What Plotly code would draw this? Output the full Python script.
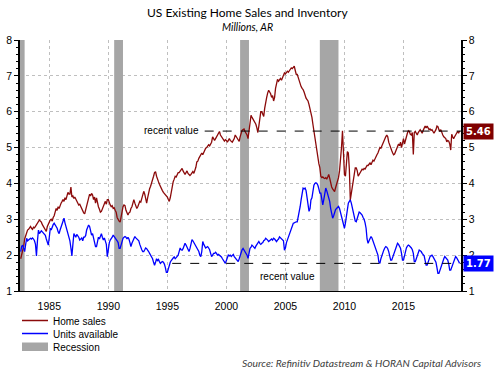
import plotly.graph_objects as go
import pandas as pd

# ---------------- data (monthly, millions, SAAR) ----------------
start_month = "1982-08-01"

home_sales = [
    1.90, 2.00, 2.10, 2.25, 2.45,
    2.55, 2.65, 2.70, 2.72, 2.78, 2.80, 2.75, 2.72, 2.78, 2.76, 2.80, 2.85,
    2.90, 2.97, 2.98, 2.95, 2.92, 2.85, 2.80, 2.75, 2.68, 2.66, 2.80, 2.88,
    2.95, 2.98, 3.00, 2.95, 3.05, 3.10, 3.20, 3.30, 3.25, 3.35, 3.30, 3.40,
    3.45, 3.50, 3.55, 3.50, 3.60, 3.55, 3.65, 3.75, 3.70, 3.70, 3.90, 3.62,
    3.65, 3.58, 3.62, 3.55, 3.50, 3.45, 3.40, 3.42, 3.35, 3.28, 3.22, 3.18,
    3.15, 3.25, 3.38, 3.50, 3.60, 3.70, 3.65, 3.72, 3.68, 3.55, 3.62, 3.45,
    3.60, 3.45, 3.35, 3.28, 3.20, 3.22, 3.30, 3.40, 3.45, 3.50, 3.42, 3.55,
    3.55, 3.45, 3.40, 3.35, 3.38, 3.30, 3.32, 3.25, 3.20, 3.05, 2.98, 2.95,
    2.92, 3.05, 3.25, 3.35, 3.40, 3.38, 3.25, 3.15, 3.12, 3.18, 3.20, 3.30,
    3.35, 3.45, 3.55, 3.45, 3.35, 3.30, 3.35, 3.42, 3.50, 3.48, 3.60, 3.72,
    3.78, 3.70, 3.55, 3.45, 3.60, 3.75, 3.85, 3.92, 4.00, 4.10, 4.20, 4.30,
    4.33, 4.20, 4.10, 4.05, 3.98, 3.90, 3.85, 3.80, 3.75, 3.72, 3.70, 3.68,
    3.62, 3.55, 3.50, 3.60, 3.75, 3.95, 4.05, 4.12, 4.20, 4.18, 4.25, 4.30,
    4.30, 4.35, 4.40, 4.42, 4.35, 4.28, 4.25, 4.30, 4.35, 4.28, 4.25, 4.22,
    4.25, 4.30, 4.33, 4.28, 4.35, 4.45, 4.60, 4.62, 4.70, 4.75, 4.78, 4.85,
    4.80, 4.88, 4.95, 4.98, 5.00, 5.05, 5.08, 5.05, 5.10, 5.15, 5.30, 5.25,
    5.20, 5.25, 5.30, 5.35, 5.40, 5.45, 5.35, 5.30, 5.25, 5.20, 5.18, 5.22,
    5.20, 5.15, 5.22, 5.25, 5.20, 5.18, 5.15, 5.20, 5.25, 5.35, 5.30, 5.25,
    5.20, 5.17, 5.30, 5.40, 5.48, 5.50, 5.52, 5.45, 5.40, 5.35, 5.25, 5.45,
    5.70, 5.90, 5.85, 5.80, 5.75, 5.70, 5.65, 5.55, 5.42, 5.60, 5.80, 6.00,
    6.00, 5.95, 5.87, 6.10, 6.30, 6.40, 6.52, 6.60, 6.55, 6.50, 6.40, 6.45,
    6.30, 6.40, 6.65, 6.75, 6.90, 6.85, 6.90, 6.93, 6.88, 6.95, 7.00, 7.08,
    7.05, 7.08, 7.13, 7.10, 7.15, 7.18, 7.22, 7.20, 7.25, 7.27, 7.15, 7.04,
    7.04, 6.95, 6.85, 6.75, 6.70, 6.65, 6.62, 6.55, 6.45, 6.38, 6.34, 6.30,
    6.20, 6.10, 5.95, 5.84, 5.65, 5.45, 5.28, 5.10, 4.90, 4.70, 4.55, 4.44,
    4.20, 4.16, 4.18, 4.15, 4.14, 4.16, 4.12, 4.18, 4.25, 4.15, 4.00, 3.90,
    3.85, 3.80, 3.77, 3.88, 3.97, 4.05, 4.16, 4.35, 4.63, 5.00, 5.47, 4.75,
    4.25, 4.20, 4.50, 4.89, 4.85, 4.40, 3.54, 3.70, 3.92, 4.00, 4.20, 4.43,
    4.43, 4.35, 4.20, 4.25, 4.30, 4.35, 4.40, 4.38, 4.42, 4.40, 4.45, 4.50,
    4.50, 4.55, 4.57, 4.52, 4.60, 4.65, 4.62, 4.70, 4.75, 4.80, 4.85, 4.95,
    5.00, 4.98, 5.05, 5.10, 5.20, 5.25, 5.30, 5.35, 5.30, 5.15, 5.05, 5.00,
    4.92, 4.85, 4.80, 4.82, 4.90, 4.95, 5.05, 5.10, 5.05, 5.15, 5.00, 5.10,
    5.25, 5.10, 5.20, 5.35, 5.40, 5.47, 5.45, 5.37, 5.35, 5.42, 4.81, 5.42,
    5.45, 5.40, 5.35, 5.42, 5.48, 5.50, 5.45, 5.40, 5.48, 5.55, 5.60, 5.55,
    5.60, 5.55, 5.50, 5.52, 5.48, 5.50, 5.45, 5.40, 5.45, 5.50, 5.60, 5.58,
    5.50, 5.45, 5.50, 5.40, 5.35, 5.30, 5.28, 5.25, 5.16, 5.20, 5.18, 5.10,
    4.93, 5.37, 5.30, 5.25, 5.30, 5.35, 5.42, 5.45, 5.40, 5.46,
]

units_available = [
    2.10, 2.25, 2.28, 2.20, 2.10,
    2.30, 2.47, 2.40, 2.42, 2.45, 2.47, 2.45, 2.48, 2.45, 2.40, 2.30, 1.98,
    2.40, 2.70, 2.60, 2.65, 2.68, 2.65, 2.62, 2.60, 2.55, 2.45, 2.35, 2.28,
    2.50, 2.75, 2.70, 2.80, 2.85, 2.89, 2.85, 2.80, 2.75, 2.65, 2.60, 2.70,
    2.80, 2.85, 2.95, 3.03, 2.90, 2.80, 2.65, 2.60, 2.50, 2.40, 2.20, 1.98,
    2.30, 2.60, 2.55, 2.50, 2.58, 2.55, 2.50, 2.42, 2.45, 2.48, 2.40, 2.50,
    2.50, 2.55, 2.70, 2.75, 2.84, 2.80, 2.65, 2.56, 2.60, 2.50, 2.40, 2.24,
    2.24, 2.35, 2.50, 2.45, 2.55, 2.60, 2.50, 2.42, 2.48, 2.40, 2.30, 1.96,
    2.20, 2.35, 2.42, 2.45, 2.50, 2.56, 2.52, 2.50, 2.47, 2.40, 2.35, 2.19,
    2.19, 2.30, 2.40, 2.47, 2.50, 2.52, 2.50, 2.45, 2.50, 2.45, 2.35, 2.24,
    2.33, 2.40, 2.45, 2.52, 2.48, 2.45, 2.43, 2.40, 2.30, 2.20, 2.15, 2.10,
    2.10, 2.15, 2.20, 2.18, 2.15, 2.10, 2.05, 2.00, 1.95, 1.90, 1.80, 1.72,
    1.80, 1.90, 1.85, 1.88, 1.82, 1.77, 1.80, 1.82, 1.80, 1.75, 1.65, 1.52,
    1.52, 1.65, 1.77, 1.80, 1.85, 1.90, 1.92, 1.95, 1.90, 1.93, 1.96, 2.00,
    2.10, 2.20, 2.15, 2.14, 2.18, 2.25, 2.33, 2.28, 2.20, 2.14, 2.10, 2.18,
    2.30, 2.43, 2.40, 2.35, 2.28, 2.24, 2.20, 2.15, 2.10, 2.00, 1.96, 2.10,
    2.38, 2.30, 2.25, 2.20, 2.22, 2.24, 2.20, 2.15, 2.05, 1.96, 2.00, 2.05,
    2.05, 2.08, 2.05, 2.00, 2.02, 2.00, 1.98, 1.95, 1.90, 1.85, 1.80, 1.77,
    1.85, 1.95, 2.00, 1.98, 2.00, 1.96, 1.98, 2.02, 1.96, 1.93, 1.90, 1.86,
    1.82, 1.90, 2.00, 2.10, 2.15, 2.19, 2.15, 2.10, 2.05, 2.00, 1.91, 2.05,
    2.19, 2.22, 2.28, 2.25, 2.20, 2.19, 2.25, 2.30, 2.35, 2.38, 2.33, 2.30,
    2.33, 2.35, 2.40, 2.42, 2.47, 2.45, 2.42, 2.38, 2.40, 2.42, 2.45, 2.42,
    2.47, 2.45, 2.40, 2.38, 2.42, 2.45, 2.51, 2.48, 2.47, 2.45, 2.40, 2.14,
    2.20, 2.35, 2.42, 2.45, 2.55, 2.65, 2.72, 2.80, 2.89, 2.90, 2.92, 2.93,
    2.93, 3.05, 3.20, 3.35, 3.54, 3.75, 3.87, 3.85, 3.87, 3.80, 3.60, 3.30,
    3.22, 3.30, 3.54, 3.60, 3.80, 3.95, 4.00, 4.02, 4.00, 3.95, 3.85, 3.73,
    3.73, 3.60, 3.40, 3.55, 3.70, 3.87, 3.80, 3.70, 3.63, 3.50, 3.30, 3.10,
    3.03, 3.10, 3.20, 3.27, 3.30, 3.32, 3.36, 3.30, 3.20, 3.10, 2.98, 2.85,
    2.75, 2.90, 3.10, 3.30, 3.45, 3.50, 3.54, 3.45, 3.30, 3.17, 3.05, 2.95,
    2.93, 3.05, 3.15, 3.20, 3.18, 3.15, 3.12, 3.05, 3.00, 2.90, 2.75, 2.45,
    2.33, 2.40, 2.45, 2.52, 2.48, 2.40, 2.33, 2.30, 2.20, 2.10, 2.00, 1.80,
    1.77, 1.90, 2.00, 2.10, 2.14, 2.20, 2.24, 2.22, 2.18, 2.10, 2.00, 1.86,
    1.86, 1.95, 2.00, 2.10, 2.20, 2.28, 2.33, 2.30, 2.25, 2.19, 2.05, 1.86,
    1.86, 2.00, 2.10, 2.20, 2.25, 2.28, 2.26, 2.24, 2.20, 2.15, 2.05, 1.82,
    1.82, 1.90, 2.00, 2.10, 2.14, 2.12, 2.10, 2.05, 2.02, 1.98, 1.85, 1.72,
    1.72, 1.80, 1.90, 1.96, 1.98, 2.00, 1.96, 1.90, 1.88, 1.80, 1.65, 1.49,
    1.49, 1.58, 1.67, 1.77, 1.85, 1.90, 1.96, 1.92, 1.88, 1.86, 1.75, 1.58,
    1.58, 1.65, 1.72, 1.82, 1.90, 1.96, 1.93, 1.89, 1.83, 1.77,
]

recession_start = ["1981-07-01", "1990-07-01", "2001-03-01", "2007-12-01"]
recession_end = ["1982-11-30", "1991-03-31", "2001-11-30", "2009-06-30"]

year_ticks = [1985, 1990, 1995, 2000, 2005, 2010, 2015]
value_ticks = [1, 2, 3, 4, 5, 6, 7, 8]

# ---------------- figure ----------------
dates_sales = pd.date_range(start_month, periods=len(home_sales), freq="MS")
dates_units = pd.date_range(start_month, periods=len(units_available), freq="MS")

x_range = ["1982-07-10", "2019-11-15"]
y_range = [1, 8]

RED = "#8B0A0A"
BLUE = "#0000FF"
GRAY = "#A6A6A6"
GRID = "#BFBFBF"
TICKFONT = dict(family="Liberation Sans", size=10.5, color="black")
SMALLFONT = dict(family="Liberation Sans", size=10, color="black")

fig = go.Figure()
fig.add_trace(go.Scatter(x=dates_sales, y=home_sales, mode="lines",
                         line=dict(color=RED, width=1.3), name="Home sales",
                         showlegend=False))
fig.add_trace(go.Scatter(x=dates_units, y=units_available, mode="lines",
                         line=dict(color=BLUE, width=1.3), name="Units available",
                         yaxis="y2", showlegend=False))

shapes = []
x_lo = pd.Timestamp(x_range[0])
for s, e in zip(recession_start, recession_end):
    x0 = max(pd.Timestamp(s), x_lo)
    shapes.append(dict(type="rect", xref="x", yref="y", x0=x0, x1=e,
                       y0=y_range[0], y1=y_range[1], fillcolor=GRAY,
                       line=dict(width=0), layer="between"))

last_sales = home_sales[-1]
last_units = units_available[-1]
shapes.append(dict(type="line", xref="x", yref="y", x0="1998-03-01", x1=x_range[1],
                   y0=last_sales, y1=last_sales,
                   line=dict(color="black", width=1, dash="dash")))
shapes.append(dict(type="line", xref="x", yref="y", x0="1995-06-01", x1=x_range[1],
                   y0=last_units, y1=last_units,
                   line=dict(color="black", width=1, dash="dash")))

# plot area: x 20..461 px, y 40..291 px
def px(xp):
    return (xp - 20) / 441.0

def py(yp):
    return (291 - yp) / 251.0

# manual legend
shapes.append(dict(type="line", xref="paper", yref="paper", x0=px(22), x1=px(48),
                   y0=py(320.5), y1=py(320.5), line=dict(color=RED, width=1.5)))
shapes.append(dict(type="line", xref="paper", yref="paper", x0=px(22), x1=px(48),
                   y0=py(333.5), y1=py(333.5), line=dict(color=BLUE, width=1.5)))
shapes.append(dict(type="rect", xref="paper", yref="paper", x0=px(22), x1=px(48),
                   y0=py(351), y1=py(342.5), fillcolor=GRAY, line=dict(width=0)))

annotations = [
    dict(text="US Existing Home Sales and Inventory", xref="paper", yref="paper",
         x=px(247.5), y=py(12), xanchor="center", yanchor="middle", showarrow=False,
         font=dict(family="Lato", size=12, color="black")),
    dict(text="<i>Millions, AR</i>", xref="paper", yref="paper",
         x=px(247.5), y=py(27), xanchor="center", yanchor="middle", showarrow=False,
         font=dict(family="Lato", size=10.5, color="black")),
    dict(text="<i>Source: Refinitiv Datastream &amp; HORAN Capital Advisors</i>",
         xref="paper", yref="paper", x=px(483), y=py(363), xanchor="right",
         yanchor="middle", showarrow=False,
         font=dict(family="Lato", size=10.3, color="#404040")),
    dict(text="Home sales", xref="paper", yref="paper", x=px(51), y=py(321.5),
         xanchor="left", yanchor="middle", showarrow=False, font=SMALLFONT),
    dict(text="Units available", xref="paper", yref="paper", x=px(51), y=py(334.5),
         xanchor="left", yanchor="middle", showarrow=False, font=SMALLFONT),
    dict(text="Recession", xref="paper", yref="paper", x=px(51), y=py(347.5),
         xanchor="left", yanchor="middle", showarrow=False, font=SMALLFONT),
    dict(text="recent value", xref="x", yref="y", x="1998-03-01", y=last_sales,
         xanchor="right", yanchor="middle", xshift=-4, yshift=1, showarrow=False,
         font=SMALLFONT),
    dict(text="recent value", xref="x", yref="y", x="2005-03-01", y=last_units,
         xanchor="center", yanchor="middle", yshift=-13, showarrow=False,
         font=SMALLFONT),
    dict(text="<b>%.2f</b>" % last_sales, xref="paper", yref="y", x=px(463), y=last_sales,
         xanchor="left", yanchor="middle", showarrow=False, bgcolor="#7F0000",
         borderpad=2, font=dict(family="DejaVu Sans", size=10, color="white")),
    dict(text="<b>%.2f</b>" % last_units, xref="paper", yref="y", x=px(463), y=last_units,
         xanchor="left", yanchor="middle", showarrow=False, bgcolor=BLUE,
         borderpad=2, font=dict(family="DejaVu Sans", size=10, color="white")),
]

yaxis_common = dict(range=y_range, tickvals=value_ticks, ticks="outside", ticklen=4,
                    tickcolor="black", showline=True, linecolor="black", linewidth=1.5,
                    tickfont=TICKFONT, zeroline=False, automargin=False,
                    minor=dict(dtick=0.2, ticks="outside", ticklen=2, tickcolor="black",
                               showgrid=False))

fig.update_layout(
    width=498, height=372,
    margin=dict(l=20, r=37, t=40, b=81),
    paper_bgcolor="white", plot_bgcolor="white",
    showlegend=False,
    xaxis=dict(type="date", range=x_range,
               tickvals=["%d-01-01" % y for y in year_ticks],
               ticktext=[str(y) for y in year_ticks],
               ticks="outside", ticklen=5, tickcolor="white",
               showgrid=True, gridcolor=GRID, griddash="dot", gridwidth=1,
               showline=True, linecolor="black", linewidth=1,
               tickfont=TICKFONT, zeroline=False, automargin=False),
    yaxis=dict(side="left", showgrid=True, gridcolor=GRID, griddash="dot", gridwidth=1,
               **yaxis_common),
    yaxis2=dict(side="right", overlaying="y", showgrid=False, **yaxis_common),
    shapes=shapes,
    annotations=annotations,
)

fig.write_html("out.html", config={"displayModeBar": False},
               post_script="document.body.style.margin='0';document.body.style.padding='0';")
